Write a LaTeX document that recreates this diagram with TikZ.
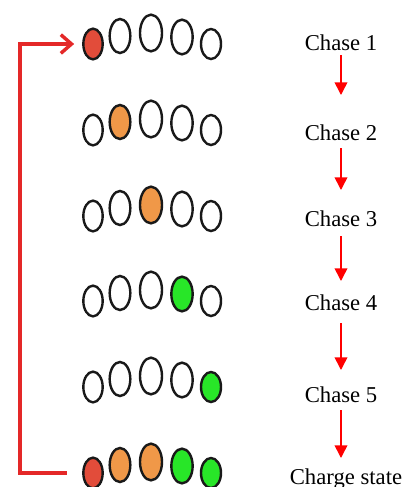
\documentclass[tikz,border=0pt]{standalone}
\usepackage{fontspec}
\setmainfont{Liberation Serif}
\usetikzlibrary{shapes.geometric,arrows.meta,calc}
\definecolor{cred}{RGB}{226,76,58}
\definecolor{corange}{RGB}{240,152,72}
\definecolor{cgreen}{RGB}{40,230,40}
\definecolor{linkred}{RGB}{228,40,40}
\definecolor{arrred}{RGB}{255,0,0}
\begin{document}
\begin{tikzpicture}[x=0.75pt,y=-0.75pt,
  bead/.style={ellipse,draw=black!90,line width=1.8pt,inner sep=0pt},
  sa/.style={minimum width=14.5pt,minimum height=23pt},
  sb/.style={minimum width=15.5pt,minimum height=25.5pt},
  sc/.style={minimum width=16.5pt,minimum height=27.5pt},
  sd/.style={minimum width=16pt,minimum height=26pt},
  se/.style={minimum width=15pt,minimum height=22.5pt},
  lbl/.style={font=\fontsize{17}{20}\selectfont,inner sep=0pt,anchor=base},
  dn/.style={draw=arrred,line width=1.2pt,-{Triangle[length=9.5pt,width=9.5pt]}},
  fb/.style={draw=linkred,line width=2.6pt,-{Straight Barb[length=8pt,width=14pt]}}
]
\useasboundingbox (0,0) rectangle (409,487);
\foreach \r/\y/\fa/\fb/\fc/\fd/\fe in {
  1/44/cred/white/white/white/white,
  2/130/white/corange/white/white/white,
  3/216/white/white/corange/white/white,
  4/301/white/white/white/cgreen/white,
  5/387/white/white/white/white/cgreen,
  6/473/cred/corange/corange/cgreen/cgreen} {
  \node[bead,sa,fill=\fa] (r\r e1) at (93,\y) {};
  \node[bead,sb,fill=\fb] (r\r e2) at (120,\y-8) {};
  \node[bead,sc,fill=\fc] (r\r e3) at (151,\y-11) {};
  \node[bead,sd,fill=\fd] (r\r e4) at (182,\y-7) {};
  \node[bead,se,fill=\fe] (r\r e5) at (211,\y) {};
}
\node[lbl] (t1) at (341,50) {Chase 1};
\node[lbl] (t2) at (341,140) {Chase 2};
\node[lbl] (t3) at (341,226) {Chase 3};
\node[lbl] (t4) at (341,310) {Chase 4};
\node[lbl] (t5) at (341,402) {Chase 5};
\node[lbl] (t6) at (346,484) {Charge state};
\draw[dn] ($(t1.base)+(0,5)$) -- ++(0,40);
\draw[dn] ($(t2.base)+(0,8)$) -- ++(0,42);
\draw[dn] ($(t3.base)+(0,10)$) -- ++(0,45);
\draw[dn] ($(t4.base)+(0,13)$) -- ++(0,47);
\draw[dn] ($(t5.base)+(0,8)$) -- ++(0,48);
\coordinate (fbx) at (20,0);
\draw[fb,shorten <=11.5pt,shorten >=6pt] (r6e1.west) -- (r6e1.west -| fbx) |- (r1e1.west);
\end{tikzpicture}
\end{document}
